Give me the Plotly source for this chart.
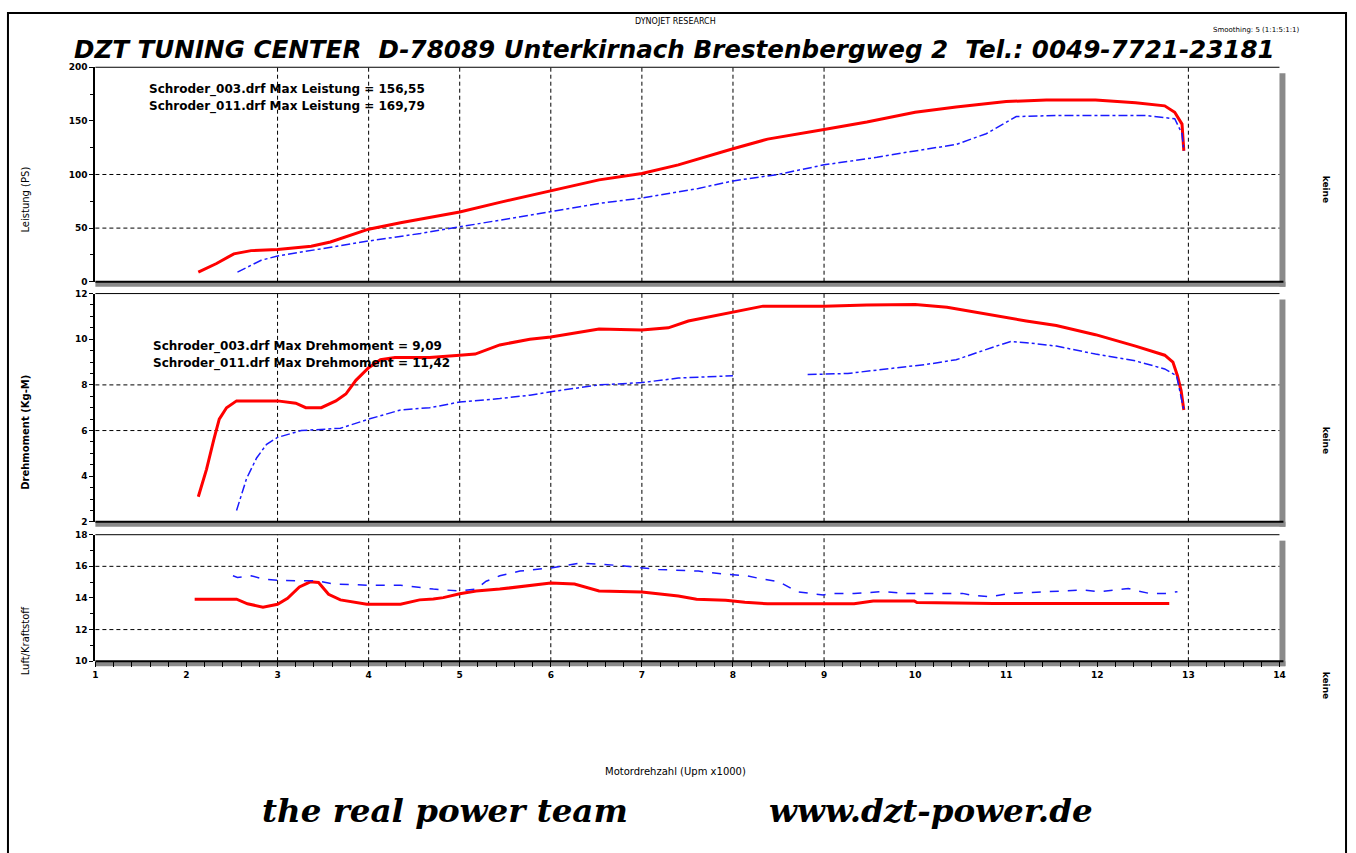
import plotly.graph_objects as go

# ---------------- data ----------------
# Leistung (PS)
rpm_p_011 = [2.13, 2.33, 2.52, 2.71, 3.0, 3.37, 3.58, 3.8, 4.0, 4.35, 5.0, 5.44, 6.0, 6.53, 7.0, 7.4,
             8.0, 8.38, 9.0, 9.47, 10.0, 10.45, 11.0, 11.44, 11.98, 12.42, 12.74, 12.85, 12.93, 12.95]
ps_011 = [9, 17, 26, 29, 30, 33, 37, 43, 49, 55, 65, 74, 85, 95, 101, 109,
          124, 133, 142, 149, 158, 163, 168, 169.5, 169.5, 167, 164, 158, 147, 122]
rpm_p_003 = [2.56, 2.82, 3.0, 3.48, 4.0, 4.57, 5.0, 5.55, 6.0, 6.53, 7.0, 7.62, 8.0, 8.49, 9.0, 9.58,
             10.0, 10.45, 10.78, 11.0, 11.11, 11.55, 11.98, 12.53, 12.85, 12.93, 12.95]
ps_003 = [9, 20, 24, 31, 38, 45, 51, 59, 65, 73, 78, 87, 94, 100, 109, 116,
          122, 128, 138, 149, 154, 155, 155, 155, 152, 138, 122]

# Drehmoment (Kg-M)
rpm_t_011 = [2.13, 2.22, 2.3, 2.36, 2.44, 2.55, 2.71, 3.0, 3.2, 3.31, 3.48, 3.64, 3.75, 3.86, 4.0, 4.13,
             4.29, 4.67, 5.0, 5.17, 5.44, 5.77, 6.0, 6.31, 6.53, 7.0, 7.29, 7.51, 8.0, 8.33, 8.71, 9.0,
             9.47, 10.0, 10.35, 10.78, 11.22, 11.55, 11.98, 12.42, 12.74, 12.83, 12.88, 12.92, 12.95]
kgm_011 = [3.1, 4.3, 5.6, 6.5, 7.0, 7.3, 7.3, 7.3, 7.2, 7.0, 7.0, 7.3, 7.6, 8.2, 8.75, 9.1,
           9.2, 9.2, 9.3, 9.35, 9.75, 10.0, 10.1, 10.3, 10.45, 10.4, 10.5, 10.8, 11.2, 11.45, 11.45, 11.45,
           11.5, 11.52, 11.4, 11.1, 10.8, 10.6, 10.2, 9.7, 9.3, 9.0, 8.4, 7.75, 6.9]
rpm_t_003 = [2.55, 2.66, 2.77, 2.88, 3.0, 3.26, 3.69, 4.0, 4.35, 4.67, 5.0, 5.44, 5.77, 6.0, 6.53, 7.0,
             7.4, 8.0, 8.4, 8.82, 9.26, 9.8, 10.13, 10.45, 10.73, 10.89, 11.05, 11.22, 11.55, 11.98,
             12.42, 12.74, 12.87, 12.95]
kgm_003 = [2.5, 3.9, 4.8, 5.4, 5.7, 6.0, 6.1, 6.5, 6.9, 7.0, 7.25, 7.4, 7.55, 7.7, 8.0, 8.1,
           8.3, 8.4, None, 8.45, 8.5, 8.75, 8.9, 9.1, 9.5, 9.7, 9.9, 9.85, 9.7, 9.35,
           9.05, 8.7, 8.4, 6.9]

# Luft/Kraftstoff
rpm_a_011 = [2.09, 2.55, 2.67, 2.84, 3.0, 3.11, 3.24, 3.36, 3.45, 3.56, 3.69, 3.98, 4.35, 4.56, 4.71,
             4.82, 5.0, 5.18, 5.44, 6.0, 6.26, 6.53, 7.0, 7.4, 7.6, 7.92, 8.13, 8.38, 9.33, 9.54, 9.99,
             10.02, 10.86, 12.34, 12.57, 12.79]
afr_011 = [13.92, 13.92, 13.63, 13.42, 13.6, 13.98, 14.7, 15.02, 14.98, 14.23, 13.88, 13.6, 13.6, 13.88, 13.94,
           14.02, 14.27, 14.44, 14.56, 14.95, 14.88, 14.44, 14.38, 14.13, 13.92, 13.85, 13.73, 13.63, 13.63, 13.81, 13.81,
           13.71, 13.65, 13.65, 13.67, 13.65]
rpm_a_003 = [2.51, 2.56, 2.71, 2.85, 3.04, 3.29, 3.44, 3.62, 3.98, 4.35, 4.53, 4.71, 5.0, 5.18, 5.29,
             5.44, 5.66, 6.0, 6.31, 6.74, 7.18, 7.62, 7.92, 8.15, 8.33, 8.51, 8.7, 8.83, 8.99, 9.1, 9.33,
             9.65, 9.88, 10.52, 10.6, 10.81, 11.06, 11.47, 11.84, 12.02, 12.34, 12.43, 12.57, 12.75, 12.88]
afr_003 = [15.4, 15.3, 15.4, 15.19, 15.1, 15.1, 15.08, 14.88, 14.81, 14.81, 14.67, 14.56, 14.44, 14.56, 15.06,
           15.4, 15.7, 15.9, 16.2, 16.06, 15.8, 15.7, 15.5, 15.4, 15.19, 15.02, 14.4, 14.29, 14.19, 14.29, 14.29,
           14.4, 14.29, 14.29, 14.19, 14.08, 14.29, 14.4, 14.5, 14.4, 14.6, 14.46, 14.29, 14.29, 14.4]

x_ticks = list(range(1, 15))
ps_ticks = [0, 50, 100, 150, 200]
kgm_ticks = [2, 4, 6, 8, 10, 12]
afr_ticks = [10, 12, 14, 16, 18]
vgrid = [3, 4, 5, 6, 7, 8, 9, 13]
hgrid_ps = [50, 100]
hgrid_kgm = [6, 8]
hgrid_afr = [12, 16]

title_text = "DZT TUNING CENTER  D-78089 Unterkirnach Brestenbergweg 2  Tel.: 0049-7721-23181"
ann_ps = ["Schroder_003.drf Max Leistung = 156,55", "Schroder_011.drf Max Leistung = 169,79"]
ann_kgm = ["Schroder_003.drf Max Drehmoment = 9,09", "Schroder_011.drf Max Drehmoment = 11,42"]

# ---------------- layout helpers ----------------
W, H = 1356, 853
def px(x):
    return x / W
def py(y):
    return 1 - y / H

RED = "#ff0000"
BLUE = "#1a1aff"
TICKFONT = dict(family="DejaVu Sans", size=9, color="black", weight="bold")

xdom = [px(93), px(1285)]
dom_p = [py(280), py(63)]
dom_t = [py(523), py(292)]
dom_a = [py(664), py(536)]

fig = go.Figure()
fig.add_trace(go.Scatter(x=rpm_p_011, y=ps_011, mode="lines", line=dict(color=RED, width=3),
                         xaxis="x", yaxis="y", name="011"))
fig.add_trace(go.Scatter(x=rpm_p_003, y=ps_003, mode="lines", line=dict(color=BLUE, width=1.5, dash="dashdot"),
                         xaxis="x", yaxis="y", name="003"))
fig.add_trace(go.Scatter(x=rpm_t_011, y=kgm_011, mode="lines", line=dict(color=RED, width=3),
                         xaxis="x2", yaxis="y2", name="011"))
fig.add_trace(go.Scatter(x=rpm_t_003, y=kgm_003, mode="lines", line=dict(color=BLUE, width=1.5, dash="dashdot"),
                         xaxis="x2", yaxis="y2", name="003"))
fig.add_trace(go.Scatter(x=rpm_a_011, y=afr_011, mode="lines", line=dict(color=RED, width=3),
                         xaxis="x3", yaxis="y3", name="011"))
fig.add_trace(go.Scatter(x=rpm_a_003, y=afr_003, mode="lines", line=dict(color=BLUE, width=1.5, dash="dash"),
                         xaxis="x3", yaxis="y3", name="003"))

def yax(dom, rng, ticks, minor_dtick, anchor):
    return dict(domain=dom, range=rng, anchor=anchor, tickvals=ticks, ticks="outside", ticklen=4,
                tickcolor="black", tickfont=TICKFONT, showgrid=False, zeroline=False,
                showline=True, linecolor="black", linewidth=2,
                minor=dict(dtick=minor_dtick, ticks="outside", ticklen=3, tickcolor="black", showgrid=False))

common_x = dict(domain=xdom, range=[1, 14], showgrid=False, zeroline=False)
fig.update_layout(
    width=W, height=H,
    margin=dict(l=0, r=0, t=0, b=0),
    paper_bgcolor="white", plot_bgcolor="white",
    showlegend=False,
    xaxis=dict(**common_x, anchor="y", showticklabels=False, ticks=""),
    xaxis2=dict(**common_x, anchor="y2", showticklabels=False, ticks="", matches="x"),
    xaxis3=dict(**common_x, anchor="y3", matches="x", tickvals=x_ticks, ticks="outside", ticklen=5,
                tickcolor="black", tickfont=TICKFONT, showline=False,
                minor=dict(dtick=0.2, ticks="outside", ticklen=5, tickcolor="black")),
    yaxis=yax(dom_p, [0, 200], ps_ticks, 25, "x"),
    yaxis2=yax(dom_t, [2, 12], kgm_ticks, 0.5, "x2"),
    yaxis3=yax(dom_a, [10, 18], afr_ticks, 1, "x3"),
)

shapes = []
# outer border (bottom edge runs past the page like in the reference)
shapes.append(dict(type="rect", xref="paper", yref="paper", x0=px(5), x1=px(1352), y0=py(870), y1=py(8),
                   line=dict(color="black", width=2), fillcolor="rgba(0,0,0,0)", layer="below"))
# panel frames
for dom in (dom_p, dom_t, dom_a):
    y0, y1 = dom
    shapes.append(dict(type="rect", xref="paper", yref="paper", x0=xdom[0], x1=xdom[1] + px(6),
                       y0=y0 - 5 / H, y1=y0, fillcolor="#8a8a8a", line=dict(width=0), layer="below"))
    shapes.append(dict(type="rect", xref="paper", yref="paper", x0=xdom[1], x1=xdom[1] + px(6),
                       y0=y0 - 5 / H, y1=y1 - 6 / H, fillcolor="#8a8a8a", line=dict(width=0), layer="below"))
    shapes.append(dict(type="line", xref="paper", yref="paper", x0=xdom[0], x1=xdom[1] + px(4),
                       y0=y0, y1=y0, line=dict(color="black", width=2), layer="above"))
    shapes.append(dict(type="line", xref="paper", yref="paper", x0=xdom[0], x1=xdom[1],
                       y0=y1, y1=y1, line=dict(color="black", width=1), layer="above"))

GRID = dict(color="black", width=1, dash="4px,3px")
for xa, ya, hg in (("x", "y", hgrid_ps), ("x2", "y2", hgrid_kgm), ("x3", "y3", hgrid_afr)):
    for v in vgrid:
        shapes.append(dict(type="line", xref=xa, yref=ya + " domain", x0=v, x1=v, y0=0, y1=1,
                           line=GRID, layer="below"))
    for v in hg:
        shapes.append(dict(type="line", xref=xa + " domain", yref=ya, x0=0, x1=1, y0=v, y1=v,
                           line=GRID, layer="below"))
fig.update_layout(shapes=shapes)

ann = []
def txt(x, y, s, size=10, angle=0, family="DejaVu Sans", weight="normal", style="normal", xanchor="center"):
    ann.append(dict(x=px(x), y=py(y), xref="paper", yref="paper", text=s, showarrow=False,
                    xanchor=xanchor, yanchor="middle", textangle=angle,
                    font=dict(family=family, size=size, color="black", weight=weight, style=style)))

txt(677, 17, "DYNOJET RESEARCH", size=8)
txt(1262, 25, "Smoothing: 5 (1:1:5:1:1)", size=7)
txt(676, 45, title_text, size=24.6, weight="bold", style="italic")
txt(145, 86, ann_ps[0], size=12, weight="bold", xanchor="left")
txt(145, 103, ann_ps[1], size=12, weight="bold", xanchor="left")
txt(149, 346, ann_kgm[0], size=12, weight="bold", xanchor="left")
txt(149, 363, ann_kgm[1], size=12, weight="bold", xanchor="left")
txt(23, 197, "Leistung (PS)", size=10, angle=-90)
txt(23, 432, "Drehmoment (Kg-M)", size=10, angle=-90, weight="bold")
txt(23, 643, "Luft/Kraftstoff", size=10, angle=-90)
txt(1332, 186, "keine", size=9, angle=90, weight="bold")
txt(1332, 440, "keine", size=9, angle=90, weight="bold")
txt(1332, 688, "keine", size=9, angle=90, weight="bold")
txt(677, 776, "Motordrehzahl (Upm x1000)", size=10)
txt(445, 815, "the real power team", size=32.5, family="DejaVu Serif", weight="bold", style="italic")
txt(934, 815, "www.dzt-power.de", size=32.5, family="DejaVu Serif", weight="bold", style="italic")
fig.update_layout(annotations=ann)

fig.write_html("out.html", config={"displayModeBar": False},
               post_script="document.body.style.margin='0px';document.body.style.overflow='hidden';")
